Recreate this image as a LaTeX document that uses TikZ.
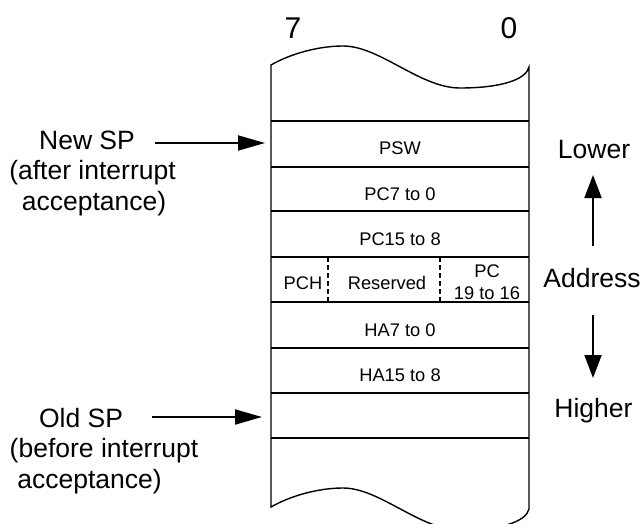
\documentclass[tikz,border=0pt]{standalone}
\usepackage{fontspec}
\setmainfont{Liberation Sans}
\usetikzlibrary{arrows.meta}
\begin{document}
\begin{tikzpicture}[x=1pt,y=-1pt,
  lbl/.style={font=\fontsize{26.5}{30}\selectfont, inner sep=0pt, anchor=base},
  cell/.style={font=\fontsize{18.3}{22}\selectfont, inner sep=0pt, align=center},
  bits/.style={font=\fontsize{30}{34}\selectfont, inner sep=0pt},
  outline/.style={line width=1.4pt},
  rowline/.style={line width=1.3pt},
  divider/.style={line width=1.1pt, dash pattern=on 5pt off 3pt},
  ptr/.style={line width=1.9pt, -{Triangle[length=27pt,width=15pt]}},
  dirarrow/.style={line width=1.9pt, -{Triangle[length=23pt,width=17pt]}}]
\clip (0,0) rectangle (642,524);
% stack outline with torn top and bottom
\draw[outline] (271,507) -- (271,65)
  .. controls (290,54) and (318,46) .. (343,46)
  .. controls (380,46) and (420,88) .. (460,88)
  .. controls (500,88) and (526,80) .. (529,67)
  -- (529,509)
  .. controls (526,522) and (500,530) .. (460,530)
  .. controls (420,530) and (380,488) .. (343,488)
  .. controls (318,488) and (290,496) .. (271,507) -- cycle;
% row lines
\foreach \yy in {121,167,211,257,302,348,393,438}
  \draw[rowline] (271,\yy) -- (529,\yy);
% dashed dividers
\draw[divider] (328,257) -- (328,302);
\draw[divider] (440,257) -- (440,302);
% bit numbers
\node[bits] (b7) at (293,28) {7};
\node[bits] (b0) at (509,28) {0};
% cells
\node[cell] (psw) at (400,148.5) {PSW};
\node[cell] (pclo) at (400,194) {PC7 to 0};
\node[cell] (pcmid) at (400,239) {PC15 to 8};
\node[cell] (pch) at (303,283) {PCH};
\node[cell] (res) at (387,283) {Reserved};
\node[cell] (pchi) at (487,282) {PC\\19 to 16};
\node[cell] (halo) at (400,330) {HA7 to 0};
\node[cell] (hahi) at (400,375.5) {HA15 to 8};
% left labels
\node[lbl] (newsp) at (87,149) {New SP};
\node[lbl] (newsp2) at (92.5,179.5) {(after interrupt};
\node[lbl] (newsp3) at (94,210) {acceptance)};
\node[lbl] (oldsp) at (81,427) {Old SP};
\node[lbl] (oldsp2) at (104,457.5) {(before interrupt};
\node[lbl] (oldsp3) at (89.5,488) {acceptance)};
% right labels
\node[lbl] (lower) at (594,158) {Lower};
\node[lbl] (addr) at (592,287) {Address};
\node[lbl] (higher) at (593.5,417) {Higher};
% pointer arrows
\coordinate (nsS) at (155,143);
\coordinate (nsE) at (265,143);
\coordinate (osS) at (152,417);
\coordinate (osE) at (262,417);
\draw[ptr] (nsS) -- (nsE);
\draw[ptr] (osS) -- (osE);
% direction arrows
\coordinate (upS) at (593,246);
\coordinate (upE) at (593,175);
\coordinate (dnS) at (593,315);
\coordinate (dnE) at (593,378);
\draw[dirarrow] (upS) -- (upE);
\draw[dirarrow] (dnS) -- (dnE);
\end{tikzpicture}
\end{document}
